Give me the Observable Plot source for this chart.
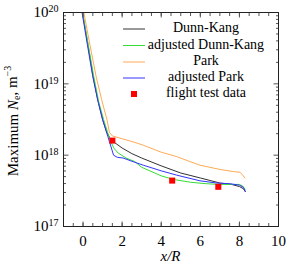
<!DOCTYPE html>
<html><head><meta charset="utf-8">
<script src="https://cdn.jsdelivr.net/npm/d3@7"></script>
<script src="https://cdn.jsdelivr.net/npm/@observablehq/plot@0.6"></script>
<style>body{margin:0;background:#fff} svg{display:block}</style>
</head><body><div id="chart"></div>
<script>
const seriesNames = ["Dunn-Kang", "adjusted Dunn-Kang", "Park", "adjusted Park"];
const seriesColors = ["#333333", "#33dd33", "#ffaa55", "#3333ff"];

const dunnKangX  = [-0.03, 0.25, 0.5, 0.75, 1.0, 1.2, 1.37, 1.6, 2.0, 2.5, 3.0, 4.0, 5.0, 6.0, 7.0, 7.6, 8.0, 8.2, 8.3];
const dunnKangNe = [1e20, 3.55e19, 1.32e19, 6.03e18, 3.16e18, 2.14e18, 1.74e18, 1.51e18, 1.26e18, 1.05e18, 9.12e17, 7.08e17, 5.62e17, 4.79e17, 4.07e17, 3.89e17, 3.63e17, 3.39e17, 3.09e17];

const adjDunnKangX  = [-0.02, 0.25, 0.55, 0.8, 1.05, 1.3, 1.45, 1.6, 1.8, 2.2, 2.65, 3.0, 4.0, 4.62, 5.5, 6.3, 7.0, 7.6, 8.0, 8.2, 8.3];
const adjDunnKangNe = [1e20, 3.72e19, 1.26e19, 5.62e18, 3.16e18, 1.91e18, 1.48e18, 1.23e18, 1.07e18, 9.12e17, 8.13e17, 6.76e17, 5.13e17, 4.57e17, 4.17e17, 3.98e17, 3.89e17, 3.89e17, 3.89e17, 3.63e17, 3.24e17];

const parkX  = [0.04, 0.35, 0.67, 0.95, 1.23, 1.35, 1.5, 2.0, 2.65, 3.08, 4.0, 4.79, 5.47, 5.98, 7.0, 7.69, 8.04, 8.2, 8.28];
const parkNe = [1e20, 3.55e19, 1.26e19, 6.03e18, 3.09e18, 2.09e18, 1.86e18, 1.7e18, 1.51e18, 1.38e18, 1.1e18, 9.55e17, 8.13e17, 7.24e17, 6.31e17, 5.89e17, 5.75e17, 5.13e17, 4.79e17];

const adjParkX  = [-0.05, 0.22, 0.5, 0.75, 1.01, 1.27, 1.45, 1.56, 1.75, 2.05, 2.65, 3.08, 4.0, 4.79, 5.98, 6.84, 7.5, 8.0, 8.2, 8.3];
const adjParkNe = [1e20, 3.55e19, 1.26e19, 5.89e18, 3.09e18, 1.82e18, 1.26e18, 1e18, 9.33e17, 9.12e17, 7.94e17, 7.24e17, 6.03e17, 5.25e17, 4.37e17, 4.07e17, 3.98e17, 3.8e17, 3.55e17, 3.09e17];

const flightX  = [1.5, 4.56, 6.92];
const flightNe = [1.6e18, 4.4e17, 3.6e17];
const flightLabel = "flight test data";

const xTickLabels = [0, 2, 4, 6, 8, 10];
const xMinorTicks = d3.range(-1, 10.001, 0.5);
const yTickLabels = [1e17, 1e18, 1e19, 1e20];
const yMinorTicks = [1e17, 1e18, 1e19].flatMap(d => [2,3,4,5,6,7,8,9].map(k => k * d));

const seriesData = [[dunnKangX, dunnKangNe], [adjDunnKangX, adjDunnKangNe], [parkX, parkNe], [adjParkX, adjParkNe]];
const rows = seriesData.flatMap(([xs, ys], i) => xs.map((x, j) => ({series: seriesNames[i], x, ne: ys[j]})));
const flight = flightX.map((x, i) => ({x, ne: flightNe[i]}));

const tickColor = "#555";
const tickOnly = {fill: "none", label: null, stroke: tickColor};
const plot = Plot.plot({
  width: 291, height: 272,
  marginLeft: 63, marginRight: 13, marginTop: 12, marginBottom: 46,
  style: {fontFamily: "'Liberation Serif', 'Times New Roman', serif", fontSize: "15px", background: "#fff", color: "#000"},
  x: {domain: [-1, 10]},
  y: {type: "log", domain: [1e17, 1e20]},
  color: {domain: seriesNames, range: seriesColors},
  marks: [
    Plot.line(rows, {x: "x", y: "ne", z: "series", stroke: "series", strokeWidth: 1, clip: true}),
    Plot.dot(flight, {x: "x", y: "ne", symbol: "square", fill: "red", r: 3.4}),
    Plot.axisX({anchor: "bottom", ticks: xMinorTicks, tickSize: -3, ...tickOnly}),
    Plot.axisX({anchor: "top", ticks: xMinorTicks, tickSize: -3, ...tickOnly}),
    Plot.axisX({anchor: "bottom", ticks: xTickLabels, tickSize: -4.5, ...tickOnly}),
    Plot.axisX({anchor: "top", ticks: xTickLabels, tickSize: -4.5, ...tickOnly}),
    Plot.axisX({anchor: "bottom", ticks: xTickLabels, tickSize: 0, tickPadding: 9, label: null, fontSize: 15}),
    Plot.axisY({anchor: "left", ticks: yMinorTicks, tickSize: -3, ...tickOnly}),
    Plot.axisY({anchor: "right", ticks: yMinorTicks, tickSize: -3, ...tickOnly}),
    Plot.axisY({anchor: "left", ticks: yTickLabels, tickSize: -5.5, ...tickOnly}),
    Plot.axisY({anchor: "right", ticks: yTickLabels, tickSize: -5.5, ...tickOnly}),
    Plot.axisY({anchor: "left", ticks: yTickLabels, tickSize: 0, tickPadding: 5, label: null, fontSize: 15,
      tickFormat: d => "10^" + Math.round(Math.log10(d))}),
    Plot.frame({stroke: "#222"})
  ]
});
document.getElementById("chart").appendChild(plot);

const svg = d3.select(plot);
// superscripted powers of ten
svg.selectAll("text").each(function() {
  const t = d3.select(this);
  const s = t.text();
  if (!/^10\^\d+$/.test(s)) return;
  const e = s.split("^")[1];
  t.text("10");
  t.append("tspan").attr("dy", "-0.5em").attr("font-size", "10px").text(e);
});

// axis titles
svg.append("text").attr("x", 170.5).attr("y", 258).attr("text-anchor", "middle")
  .attr("dominant-baseline", "middle").attr("font-size", 15).attr("font-style", "italic").text("x/R");
const yt = svg.append("text").attr("transform", "translate(15,121) rotate(-90)").attr("text-anchor", "middle")
  .attr("dominant-baseline", "middle").attr("font-size", 15);
yt.append("tspan").text("Maximum ");
yt.append("tspan").attr("font-style", "italic").text("N");
yt.append("tspan").attr("font-size", 10).attr("dy", "0.3em").text("e");
yt.append("tspan").attr("dy", "-0.3em").text(", m");
yt.append("tspan").attr("font-size", 10).attr("dy", "-0.5em").text("\u22123");

// legend
const lg = svg.append("g").attr("font-size", 14);
const rowY = [29, 45.5, 62, 78, 94];
seriesNames.forEach((name, i) => {
  lg.append("line").attr("x1", 123).attr("x2", 145).attr("y1", rowY[i]).attr("y2", rowY[i])
    .attr("stroke", seriesColors[i]).attr("stroke-width", 1);
  lg.append("text").attr("x", 206).attr("y", rowY[i]).attr("text-anchor", "middle")
    .attr("dominant-baseline", "middle").text(name);
});
lg.append("rect").attr("x", 131).attr("y", rowY[4] - 3).attr("width", 6).attr("height", 6).attr("fill", "red");
lg.append("text").attr("x", 206).attr("y", rowY[4]).attr("text-anchor", "middle")
  .attr("dominant-baseline", "middle").text(flightLabel);
</script>
</body></html>
